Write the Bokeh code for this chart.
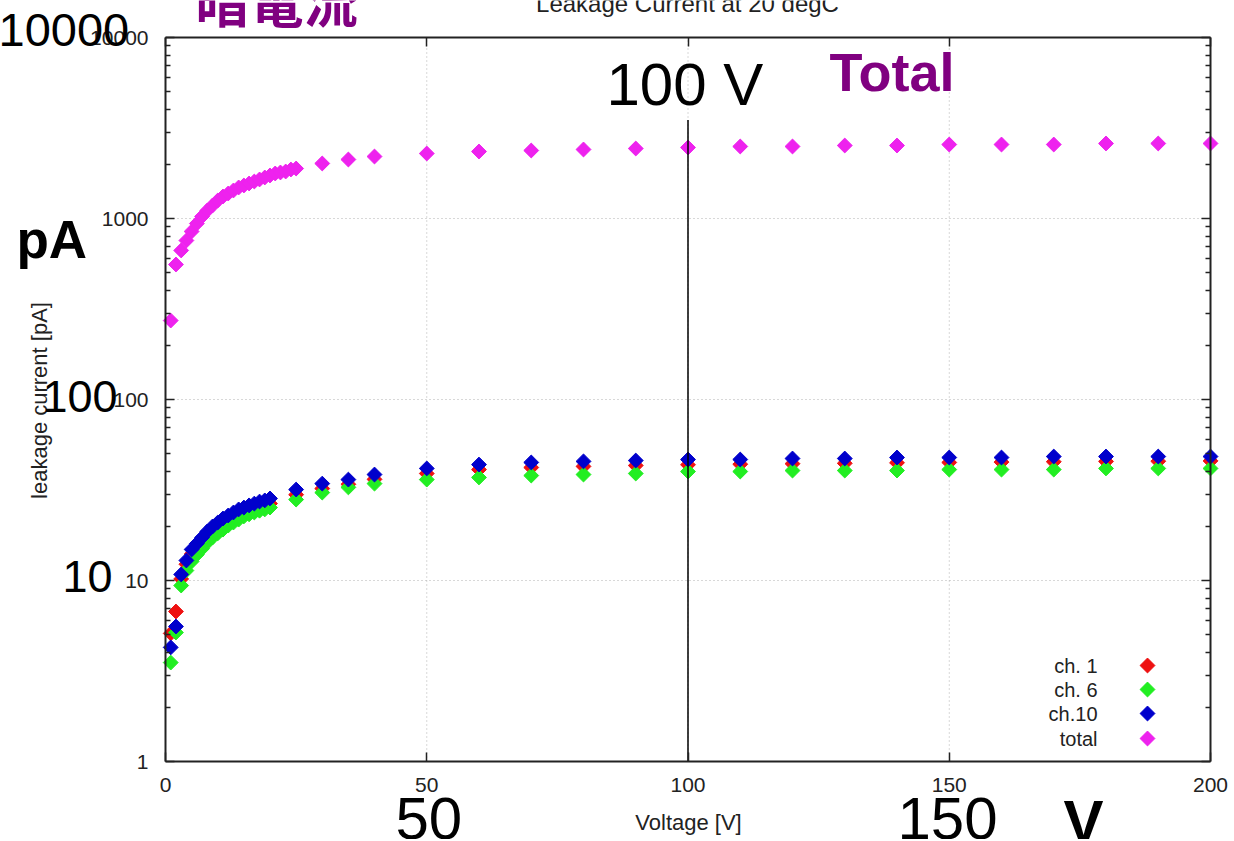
import numpy as np
from bokeh.plotting import figure
from bokeh.models import (Range1d, LinearScale, LinearAxis, LogAxis, FixedTicker,
                          Label, PrintfTickFormatter)
from bokeh.embed import file_html
from bokeh.resources import INLINE

# ---------------- data ----------------
voltage_ch = [1, 2, 3, 4, 5, 6, 7, 8, 9, 10, 11, 12, 13, 14, 15, 16, 17, 18, 19, 20,
              25, 30, 35, 40, 50, 60, 70, 80, 90, 100, 110, 120, 130, 140, 150,
              160, 170, 180, 190, 200]
ch1 = [5.1, 6.74, 10.2, 12.3, 14.0, 15.2, 16.3, 17.6, 18.7, 19.7, 20.6, 21.5, 22.3,
       23.1, 23.7, 24.4, 25.0, 25.6, 26.0, 26.6,
       29.8, 32.2, 34.0, 36.2, 39.0, 41.0, 42.1, 42.7, 43.2, 43.6, 43.9, 44.2, 44.4,
       44.7, 44.9, 45.1, 45.3, 45.5, 45.6, 45.8]
ch6 = [3.52, 5.16, 9.38, 11.35, 12.74, 13.9, 15.0, 16.2, 17.28, 18.2, 19.1, 20.1, 20.9,
       21.7, 22.6, 23.2, 23.75, 24.3, 24.7, 25.3,
       28.0, 30.6, 32.7, 34.3, 36.1, 37.1, 38.0, 38.5, 39.0, 40.0, 40.0, 40.5, 40.5,
       40.5, 41.0, 41.0, 41.0, 41.6, 41.6, 41.6]
ch10 = [4.27, 5.57, 10.8, 12.9, 14.84, 16.0, 17.28, 18.66, 19.88, 20.9, 22.0, 22.86,
        23.75, 24.7, 25.3, 26.0, 26.6, 27.3, 27.7, 28.4,
        31.8, 34.3, 36.1, 38.5, 41.6, 43.7, 44.9, 45.5, 46.0, 46.6, 46.6, 47.2, 47.2,
        47.8, 47.8, 47.8, 48.4, 48.4, 48.4, 48.4]
voltage_total = [1, 2, 3, 4, 5, 6, 7, 8, 9, 10, 11, 12, 13, 14, 15, 16, 17, 18, 19, 20,
                 21, 22, 23, 24, 25, 30, 35, 40, 50, 60, 70, 80, 90, 100, 110, 120,
                 130, 140, 150, 160, 170, 180, 190, 200]
total = [273, 557, 666, 756, 848, 938, 1026, 1107, 1180, 1257, 1323, 1374, 1428, 1484,
         1522, 1561, 1601, 1643, 1685, 1729, 1773, 1796, 1818, 1865, 1889,
         2014, 2118, 2200, 2286, 2345, 2375, 2406, 2436, 2468, 2500, 2500, 2531, 2531,
         2563, 2563, 2563, 2597, 2597, 2597]

series_names = ["ch. 1", "ch. 6", "ch.10", "total"]
series_colors = ["#ee1111", "#22ee22", "#0000cc", "#ee22ee"]

x_ticks = [0, 50, 100, 150, 200]
y_ticks = [1, 10, 100, 1000, 10000]
y_minor = [m * 10 ** e for e in range(4) for m in range(2, 10)]
x_grid = [50, 100, 150]
y_grid = [10, 100, 1000]
x_lim = (0, 200)
y_lim = (1, 10000)

marker_voltage = 100
marker_top = 3500

# ---------------- layout (page pixels) ----------------
W, H = 1232, 839
PL, PR, PT, PB = 165, 1210, 37, 761          # plotting box
px_per_v = (PR - PL) / (x_lim[1] - x_lim[0])
dec_px = (PB - PT) / np.log10(y_lim[1] / y_lim[0])
x_start = x_lim[0] - PL / px_per_v
x_end = x_lim[0] + (W - PL) / px_per_v
y_end = y_lim[1] * 10 ** (PT / dec_px)
y_start = y_lim[0] / 10 ** ((H - PB) / dec_px)

FONT = "Liberation Sans"
INK = "#222222"
p = figure(width=W, height=H, y_axis_type="log",
           x_range=Range1d(x_start, x_end), y_range=Range1d(y_start, y_end),
           output_backend="svg", toolbar_location=None,
           min_border_left=0, min_border_right=0, min_border_top=0, min_border_bottom=0,
           background_fill_color="white", border_fill_color="white")
p.outline_line_color = None
p.xgrid.visible = False
p.ygrid.visible = False

p.extra_x_ranges = {"px": Range1d(0, W)}
p.extra_x_scales = {"px": LinearScale()}
p.extra_y_ranges = {"py": Range1d(0, H)}
p.extra_y_scales = {"py": LinearScale()}


def style_axis(ax, labels=True, minor=True):
    ax.axis_line_color = INK
    ax.axis_line_width = 2
    ax.major_tick_in = 9
    ax.major_tick_out = 0
    ax.minor_tick_in = 5
    ax.minor_tick_out = 0
    ax.major_tick_line_color = INK
    ax.major_tick_line_width = 1.5
    ax.minor_tick_line_color = INK if minor else None
    ax.minor_tick_line_width = 1.5
    ax.major_label_text_font = FONT
    ax.major_label_text_font_size = "21px"
    ax.major_label_text_color = INK
    if not labels:
        ax.major_label_text_alpha = 0


xa = p.xaxis[0]
ya = p.yaxis[0]
xa.ticker = FixedTicker(ticks=x_ticks)
ya.ticker = FixedTicker(ticks=y_ticks, minor_ticks=y_minor)
ya.formatter = PrintfTickFormatter(format="%d")
xa.fixed_location = y_lim[0]
ya.fixed_location = x_lim[0]
xa.bounds = x_lim
ya.bounds = y_lim
style_axis(xa, minor=False)
style_axis(ya)
xa.major_label_standoff = 16
ya.major_label_standoff = 17

top_ax = LinearAxis(ticker=FixedTicker(ticks=x_ticks), fixed_location=y_lim[1], bounds=x_lim)
style_axis(top_ax, labels=False, minor=False)
p.add_layout(top_ax, "above")
right_ax = LogAxis(ticker=FixedTicker(ticks=y_ticks, minor_ticks=y_minor),
                   fixed_location=x_lim[1], bounds=y_lim)
style_axis(right_ax, labels=False)
p.add_layout(right_ax, "right")

# grid lines (dotted)
p.segment(x0=x_grid, y0=[y_lim[0]] * 3, x1=x_grid, y1=[y_lim[1]] * 3,
          line_color="#b0b0b0", line_dash="1 3", line_width=1)
p.segment(x0=[x_lim[0]] * 3, y0=y_grid, x1=[x_lim[1]] * 3, y1=y_grid,
          line_color="#b0b0b0", line_dash="1 3", line_width=1)

# ---------------- data marks ----------------
MS = 10.5
for xs, ys, c in [(voltage_ch, ch1, series_colors[0]), (voltage_ch, ch6, series_colors[1]),
                  (voltage_ch, ch10, series_colors[2]), (voltage_total, total, series_colors[3])]:
    p.scatter(xs, ys, marker="square", angle=np.pi / 4, size=MS,
              fill_color=c, line_color=c)

p.line([marker_voltage, marker_voltage], [y_lim[0], marker_top],
       line_color="black", line_width=1.5)

# ---------------- legend (text left, marker right) ----------------
legend_rows = [665, 689, 713, 738]
p.scatter([1147] * 4, [H - r for r in legend_rows], x_range_name="px",
          y_range_name="py", marker="square", angle=np.pi / 4, size=MS,
          fill_color=series_colors, line_color=series_colors)


def add_text(txt, sx, sy, size, color="black", bold=False, font=FONT, align="left",
             angle=0.0):
    p.add_layout(Label(x=sx, y=H - sy, x_units="screen", y_units="screen",
                       text=txt, text_align=align, text_baseline="middle",
                       text_font=font, text_font_size=f"{size}px",
                       text_font_style="bold" if bold else "normal",
                       text_color=color, angle=angle))


for name, r in zip(series_names, legend_rows):
    add_text(name, 1097, r, 20, color=INK, align="right")

# axis titles and chart title
add_text("Voltage [V]", 688, 822, 22, color=INK, align="center")
add_text("leakage current [pA]", 39, 400, 22, color=INK, align="center", angle=np.pi / 2)
add_text("Leakage Current at 20 degC", 687, 3, 24, color=INK, align="center")

# overlay annotations
add_text("暗電流", 195, -1, 54, color="#800080", bold=True, font="Noto Sans CJK JP")
add_text("Total", 829, 71, 54, color="#800080", bold=True)
add_text("100 V", 606, 84, 60)
add_text("10000", -2, 29, 47)
add_text("100", 42, 396, 45)
add_text("10", 62, 576, 45)
add_text("pA", 16, 239, 53, bold=True)
add_text("50", 395, 818, 60)
add_text("150", 897, 818, 60)
add_text("V", 1063, 821, 60, bold=True)

open("out.html", "w").write(file_html(p, INLINE))
